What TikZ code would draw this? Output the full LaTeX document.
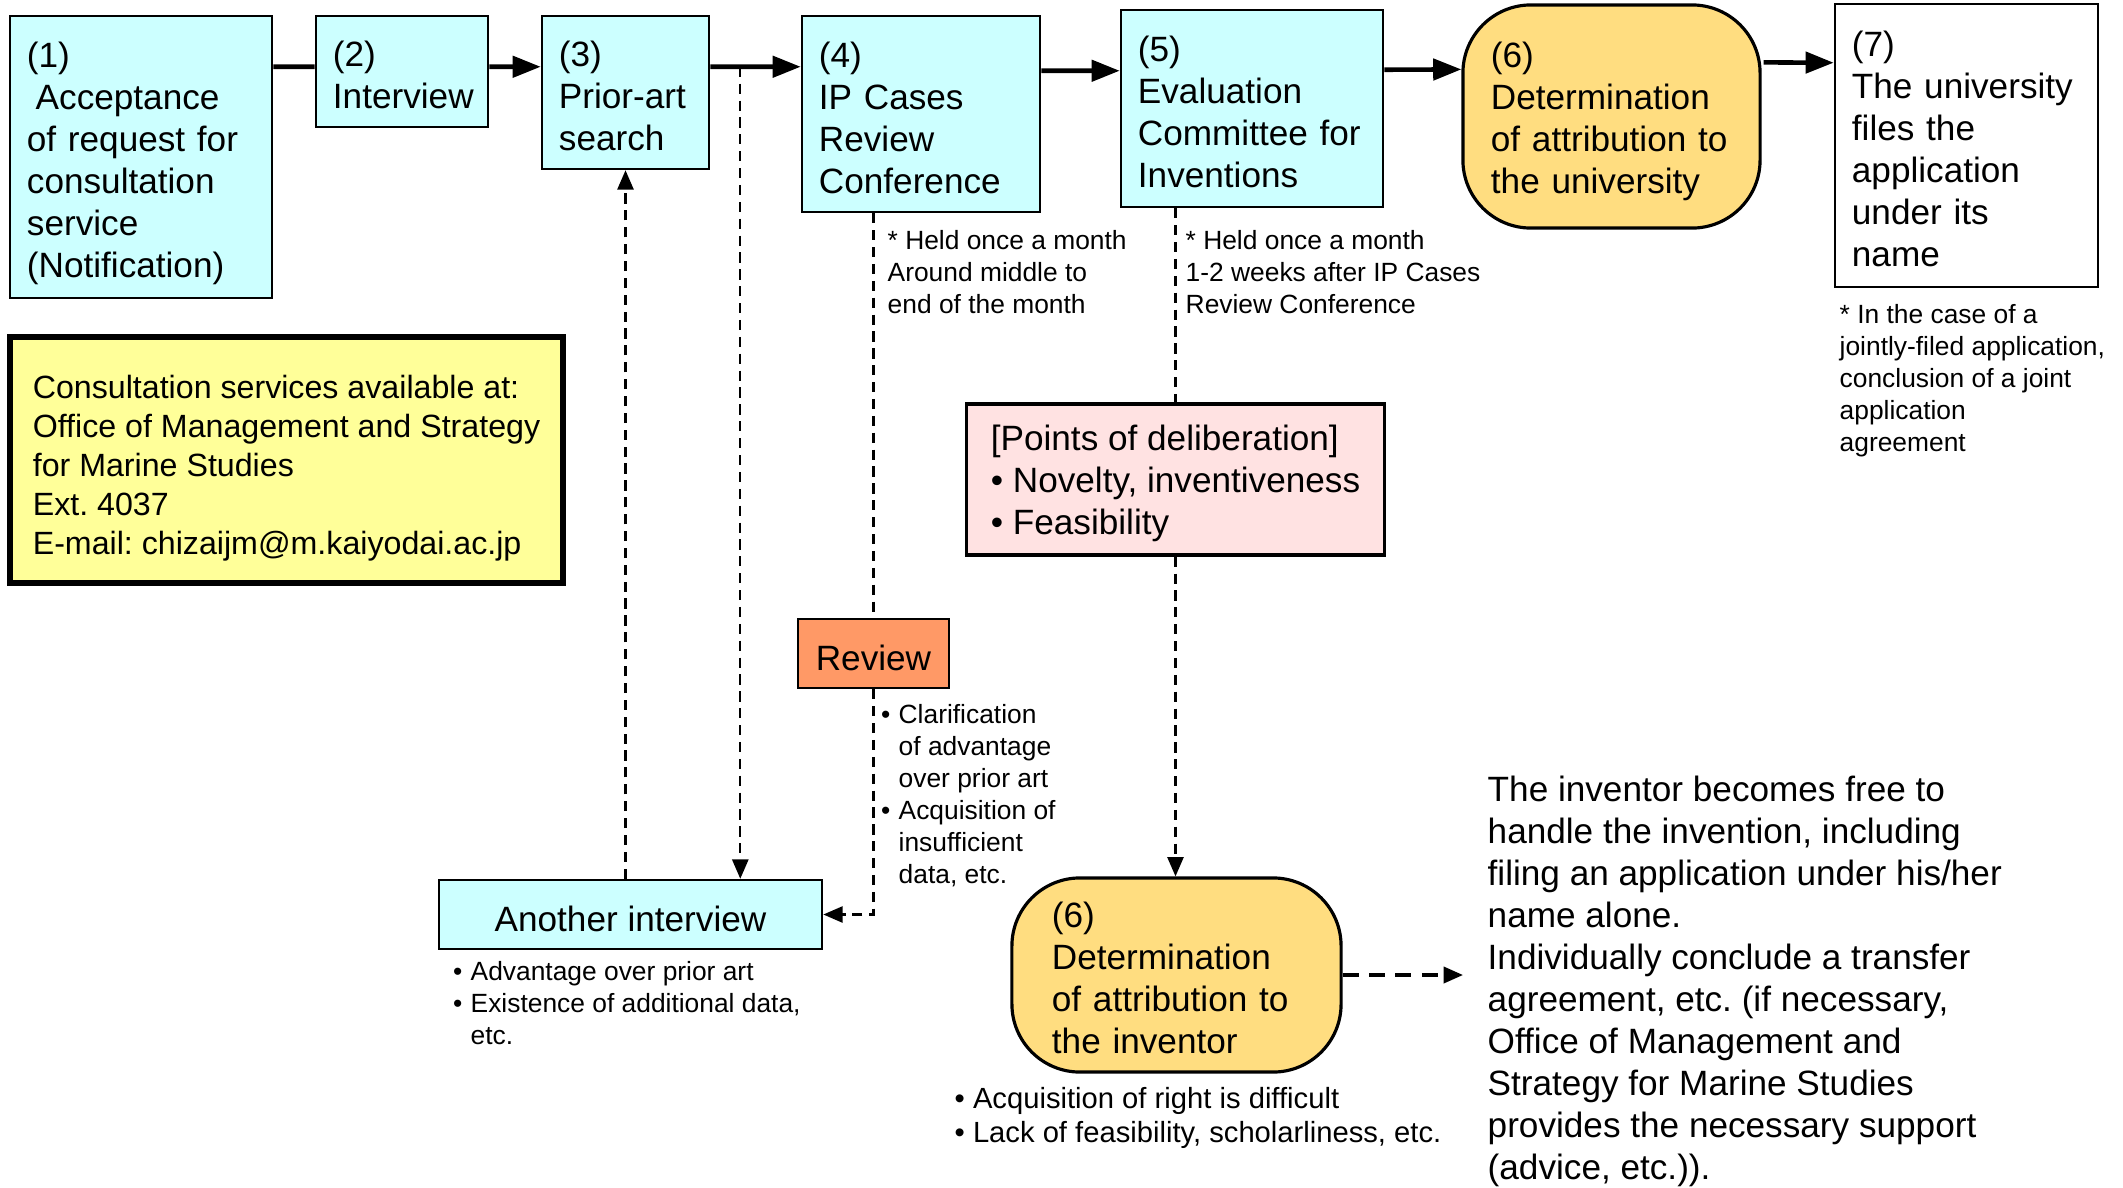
\documentclass[tikz,border=0pt]{standalone}
\usepackage{fontspec}
\setmainfont{Liberation Sans}
\usepackage{xcolor}
\usepackage{tikz}
\usetikzlibrary{shapes,arrows.meta}
\frenchspacing
\definecolor{stepcyan}{HTML}{CCFFFF}
\definecolor{decidegold}{HTML}{FFDD80}
\definecolor{contactyel}{HTML}{FFFF99}
\definecolor{pointpink}{HTML}{FFE2E2}
\definecolor{revieworange}{HTML}{FF9966}
\newcommand{\bigtxt}{\fontsize{10pt}{11.95pt}\selectfont}
\newcommand{\contacttxt}{\fontsize{9.15pt}{11.1pt}\selectfont}
\newcommand{\notetxt}{\fontsize{7.5pt}{9.1pt}\selectfont}
\newcommand{\bullettxt}{\fontsize{8.3pt}{9.6pt}\selectfont}
\newcommand{\bul}{\makebox[0.175cm][l]{\textbullet}}
\newcommand{\ind}{\hspace*{0.175cm}}
\tikzstyle{block} = [rectangle, draw, line width=0.7pt, fill=stepcyan, align=left, inner xsep=0.17cm, inner ysep=2pt, font=\bigtxt]
\tikzstyle{decide} = [block, fill=decidegold, rounded corners=0.68cm, line width=0.9pt]
\tikzstyle{note} = [inner sep=0pt, align=left, anchor=north west, font=\notetxt]
\tikzstyle{line} = [draw, line width=1.3pt, -{Triangle[length=8pt,width=6pt]}]
\tikzstyle{dashline} = [draw, line width=0.6pt, dash pattern=on 2.9pt off 1.9pt]
\tikzstyle{dasharrow} = [dashline, -{Triangle[length=5.5pt,width=4.6pt]}]
\tikzset{textdrop/.style={execute at begin node={\rule{0pt}{#1}}}}

\begin{document}
\begin{tikzpicture}[x=0.01cm, y=-0.01cm]
\useasboundingbox (0,0) rectangle (2123,1187);

% main steps along the top
\node [block, textdrop=10.7pt, text width=2.28cm, minimum height=2.82cm] (accept) at (141,157) {(1)\\\hspace*{0.25em}Acceptance\\of request for\\consultation\\service\\(Notification)};
\node [block, textdrop=9.3pt, text width=1.38cm, minimum height=1.11cm] (interview) at (402,71.5) {(2)\\Interview};
\node [block, textdrop=9.3pt, text width=1.33cm, minimum height=1.53cm] (search) at (625.5,92.5) {(3)\\Prior-art\\search};
\node [block, textdrop=9.3pt, text width=2.04cm, minimum height=1.96cm] (conf) at (921,114) {(4)\\IP Cases\\Review\\Conference};
\node [block, textdrop=9pt, text width=2.28cm, minimum height=1.97cm] (committee) at (1252,108.5) {(5)\\Evaluation\\Committee for\\Inventions};
\node [decide, textdrop=9.8pt, inner xsep=0.28cm, text width=2.41cm, minimum height=2.23cm] (univ) at (1611.5,116.5) {(6)\\Determination\\of attribution to\\the university};
\node [block, textdrop=9.3pt, fill=white, text width=2.29cm, minimum height=2.83cm] (files) at (1966.5,145.5) {(7)\\The university\\files the\\application\\under its\\name};

% side boxes
\node [block, fill=contactyel, line width=1.6pt, inner xsep=0pt, minimum width=5.53cm, minimum height=2.46cm, font=\contacttxt] (contact) at (286.5,460) {\rule{0pt}{11.2pt}Consultation services available at:\\Office of Management and Strategy\\for Marine Studies\\Ext. 4037\\E-mail: chizaijm@m.kaiyodai.ac.jp};
\node [block, fill=pointpink, line width=0.9pt, inner xsep=0pt, minimum width=4.17cm, minimum height=1.51cm] (points) at (1175.5,479.5) {\rule{0pt}{9.6pt}[Points of deliberation]\\\textbullet\ Novelty, inventiveness\\\textbullet\ Feasibility};
\node [block, textdrop=9.6pt, fill=revieworange, align=center, inner xsep=0pt, minimum width=1.51cm, minimum height=0.69cm] (review) at (873.5,653.5) {Review};
\node [block, textdrop=9.8pt, align=center, inner xsep=0pt, minimum width=3.83cm, minimum height=0.69cm] (again) at (630.5,914.5) {Another interview};
\node [decide, textdrop=8.8pt, inner xsep=0.40cm, text width=2.49cm, minimum height=1.94cm] (inventor) at (1176.5,975) {(6)\\Determination\\of attribution to\\the inventor};

% notes
\node [note] (confnote) at (887,230) {* Held once a month\\Around middle to\\end of the month};
\node [note] (commnote) at (1185,230) {* Held once a month\\1-2 weeks after IP Cases\\Review Conference};
\node [note] (filesnote) at (1839,304) {* In the case of a\\jointly-filed application,\\conclusion of a joint\\application\\agreement};
\node [note] (reviewnote) at (880.5,704) {\bul Clarification\\\ind of advantage\\\ind over prior art\\\bul Acquisition of\\\ind insufficient\\\ind data, etc.};
\node [note] (againnote) at (452.5,961) {\bul Advantage over prior art\\\bul Existence of additional data,\\\ind etc.};
\node [note, font=\bullettxt] (inventornote) at (954,1087) {\textbullet\ Acquisition of right is difficult\\\textbullet\ Lack of feasibility, scholarliness, etc.};
\node [note, font=\bigtxt] (free) at (1487,775) {The inventor becomes free to\\handle the invention, including\\filing an application under his/her\\name alone.\\Individually conclude a transfer\\agreement, etc. (if necessary,\\Office of Management and\\Strategy for Marine Studies\\provides the necessary support\\(advice, etc.)).};

% top flow
\path [draw, line width=1.3pt] ([yshift=-0.52cm]accept.north east) -- ([yshift=-0.52cm]interview.north west);
\path [line] ([yshift=-0.52cm]interview.north east) -- ([yshift=-0.52cm]search.north west);
\path [line] ([yshift=-0.52cm]search.north east) -- ([yshift=-0.52cm]conf.north west);
\path [line] ([yshift=-0.56cm]conf.north east) -- ([yshift=-0.62cm]committee.north west);
\path [line] ([yshift=-0.61cm]committee.north east) -- ([yshift=-0.66cm]univ.north west);
\path [line] ([xshift=0.02cm,yshift=-0.59cm]univ.north east) -- ([yshift=-0.60cm]files.north west);

% dashed links
\coordinate (tap) at ([xshift=0.30cm,yshift=-0.52cm]search.north east);
\path [dasharrow] (tap) -- (tap |- again.north);
\path [dasharrow] (search.south |- again.north) -- (search.south);
\path [dashline] (review.north |- conf.south) -- (review.north);
\path [dasharrow] (review.south) |- (again.east);
\path [dashline] (points.north |- committee.south) -- (points.north);
\path [dasharrow] (points.south) -- (points.south |- inventor.north);
\path [dasharrow, line width=0.9pt, dash pattern=on 4.5pt off 3pt, shorten >=0.24cm] (inventor.east) -- (inventor.east -| free.west);
\end{tikzpicture}
\end{document}
